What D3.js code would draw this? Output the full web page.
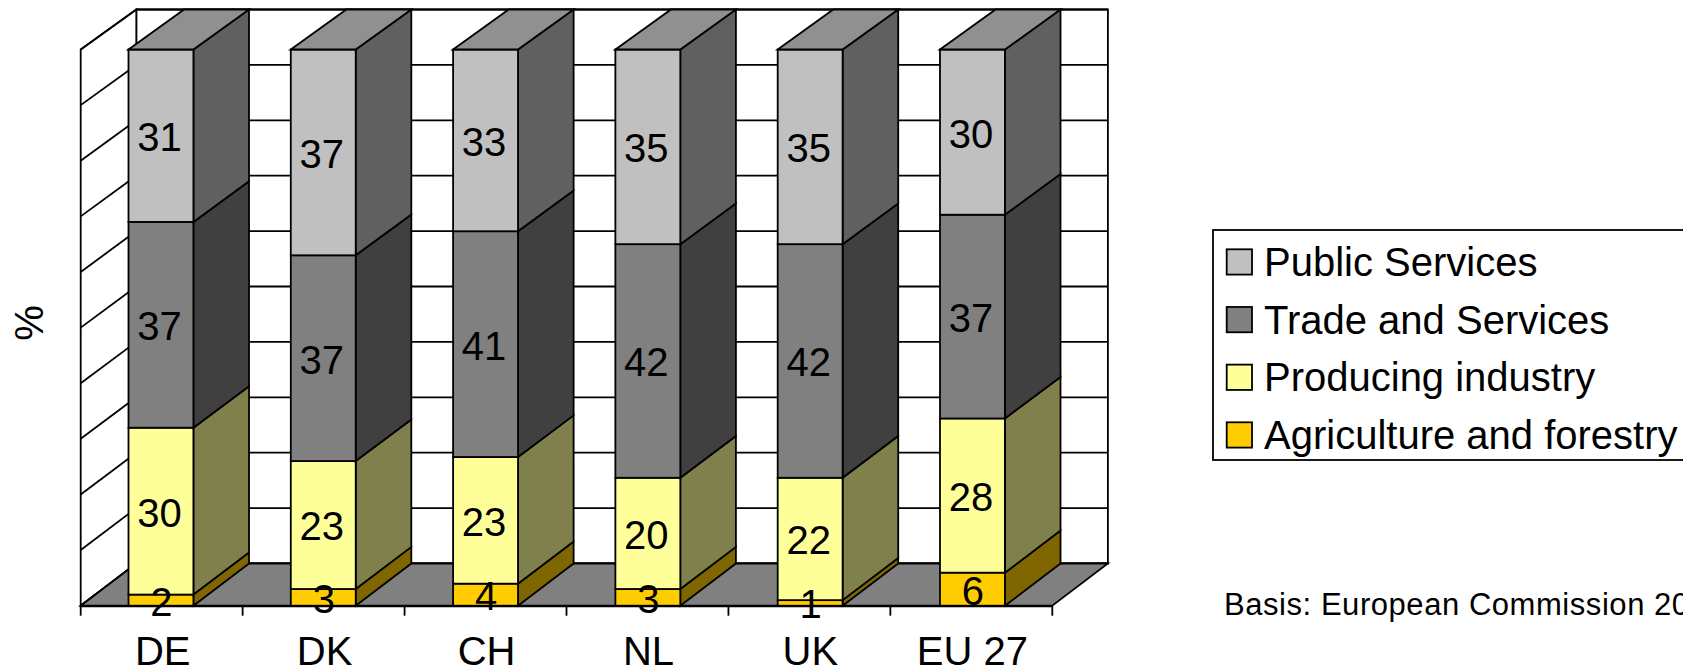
<!DOCTYPE html>
<html>
<head>
<meta charset="utf-8">
<style>
  html, body { margin: 0; padding: 0; background: #fff; overflow: hidden; }
  text { font-family: "Liberation Sans", Arial, sans-serif; fill: #000; }
</style>
<script src="https://cdn.jsdelivr.net/npm/d3@7"></script>
</head>
<body>
<svg id="chart" width="1683" height="670"></svg>
<script>
// Employment share by sector
const countries = ["DE", "DK", "CH", "NL", "UK", "EU 27"];
const agriculture = [2, 3, 4, 3, 1, 6];
const industry = [30, 23, 23, 20, 22, 28];
const trade = [37, 37, 41, 42, 42, 37];
const publicServices = [31, 37, 33, 35, 35, 30];

const sectorNames = ["Agriculture and forestry", "Producing industry", "Trade and Services", "Public Services"];
const faceColors = ["#FFCC00", "#FFFF99", "#808080", "#C0C0C0"];
const sideColors = ["#806600", "#80804D", "#404040", "#606060"];
const topColor = "#909090";
const floorColor = "#808080";
const gridTicks = [0, 0.1, 0.2, 0.3, 0.4, 0.5, 0.6, 0.7, 0.8, 0.9, 1];
const sourceNote = "Basis: European Commission 2007";

const svg = d3.select("#chart");
const rows = countries.map((c, i) => ({
  country: c, 0: agriculture[i], 1: industry[i], 2: trade[i], 3: publicServices[i]
}));
const layers = d3.stack().keys([0, 1, 2, 3]).offset(d3.stackOffsetExpand)(rows);

// Front plane and back plane of the 3D box
const plotLeft = 80.7, plotRight = 1052.3, depthX = 55.6;
const x = d3.scaleBand().domain(countries).range([79.8, 1053.6]).paddingInner(0.6).paddingOuter(0.3);
const band = d3.scaleBand().domain(countries).range([plotLeft, plotRight]);
const yFront = d3.scaleLinear().domain([0, 1]).range([605.7, 49.5]);
const yBack = d3.scaleLinear().domain([0, 1]).range([563.5, 9.5]);

const poly = pts => pts.map(p => p.join(",")).join(" ");
const stroke = { stroke: "#000", "stroke-width": 1.8, "stroke-linejoin": "miter" };
const applyStroke = sel => { for (const k in stroke) sel.attr(k, stroke[k]); return sel; };

// Walls and floor
const back = svg.append("g");
applyStroke(back.append("polygon")
  .attr("points", poly([[plotLeft + depthX, yBack(1)], [plotRight + depthX, yBack(1)], [plotRight + depthX, yBack(0)], [plotLeft + depthX, yBack(0)]]))
  .attr("fill", "#fff"));
applyStroke(back.append("polygon")
  .attr("points", poly([[plotLeft, yFront(1)], [plotLeft + depthX, yBack(1)], [plotLeft + depthX, yBack(0)], [plotLeft, yFront(0)]]))
  .attr("fill", "#fff"));
applyStroke(back.selectAll("line.back-grid").data(gridTicks).join("line")
  .attr("class", "back-grid")
  .attr("x1", plotLeft + depthX).attr("x2", plotRight + depthX)
  .attr("y1", d => yBack(d)).attr("y2", d => yBack(d)));
applyStroke(back.selectAll("line.side-grid").data(gridTicks).join("line")
  .attr("class", "side-grid")
  .attr("x1", plotLeft).attr("x2", plotLeft + depthX)
  .attr("y1", d => yFront(d)).attr("y2", d => yBack(d)));
applyStroke(back.append("polygon")
  .attr("points", poly([[plotLeft, yFront(0)], [plotRight, yFront(0)], [plotRight + depthX, yBack(0)], [plotLeft + depthX, yBack(0)]]))
  .attr("fill", floorColor));

// Stacked boxes: side face, then front face, then the cap on the top segment
const bars = svg.append("g");
layers.forEach((layer, si) => {
  layer.forEach(d => {
    const c = d.data.country, x0 = x(c), x1 = x0 + x.bandwidth();
    applyStroke(bars.append("polygon")
      .attr("points", poly([[x1, yFront(d[0])], [x1 + depthX, yBack(d[0])], [x1 + depthX, yBack(d[1])], [x1, yFront(d[1])]]))
      .attr("fill", sideColors[si]));
    applyStroke(bars.append("rect")
      .attr("x", x0).attr("y", yFront(d[1]))
      .attr("width", x.bandwidth()).attr("height", yFront(d[0]) - yFront(d[1]))
      .attr("fill", faceColors[si]));
    if (si === layers.length - 1) {
      applyStroke(bars.append("polygon")
        .attr("points", poly([[x0, yFront(d[1])], [x0 + depthX, yBack(d[1])], [x1 + depthX, yBack(d[1])], [x1, yFront(d[1])]]))
        .attr("fill", topColor));
    }
  });
});

// Category axis: labels from the band scale, ticks on the band boundaries
const axis = svg.append("g").attr("transform", `translate(0,${yFront(0)})`)
  .call(d3.axisBottom(band).tickSize(0).tickPadding(31));
axis.select(".domain").attr("stroke", "#000").attr("stroke-width", 2);
axis.selectAll("text").attr("font-size", 40).attr("dy", "0.71em").attr("dx", 1);
axis.selectAll("line.bound").data(d3.range(countries.length + 1)).join("line")
  .attr("class", "bound")
  .attr("x1", i => plotLeft + i * band.step()).attr("x2", i => plotLeft + i * band.step())
  .attr("y1", 0).attr("y2", 10)
  .attr("stroke", "#000").attr("stroke-width", 1.8);

// Value labels centred on each front face
const labels = svg.append("g").attr("font-size", 40).attr("text-anchor", "middle");
layers.forEach(layer => {
  layer.forEach(d => {
    const val = d.data[layer.key];
    labels.append("text")
      .attr("x", x(d.data.country) + x.bandwidth() / 2 - (val >= 10 ? 1.5 : -0.5))
      .attr("y", (yFront(d[0]) + yFront(d[1])) / 2 + 1)
      .attr("dy", "0.36em")
      .text(val);
  });
});

// Vertical axis title
svg.append("text")
  .attr("transform", "translate(43,323) rotate(-90)")
  .attr("text-anchor", "middle").attr("font-size", 40).text("%");

// Legend, listed from the top of the stack downwards
const legend = svg.append("g");
legend.append("rect").attr("x", 1213).attr("y", 230).attr("width", 520).attr("height", 230)
  .attr("fill", "#fff").attr("stroke", "#000").attr("stroke-width", 1.8);
const legendRows = d3.range(sectorNames.length).reverse();
const legendY = d3.scalePoint().domain(legendRows).range([262, 435]);
const entries = legend.selectAll("g.entry").data(legendRows).join("g")
  .attr("class", "entry").attr("transform", k => `translate(0,${legendY(k)})`);
entries.append("rect").attr("x", 1226.7).attr("y", -12.7).attr("width", 25.3).attr("height", 25.3)
  .attr("fill", k => faceColors[k]).attr("stroke", "#000").attr("stroke-width", 1.8);
entries.append("text").attr("x", 1264).attr("y", 14).attr("font-size", 40)
  .text(k => sectorNames[k]);

// Source note
svg.append("text").attr("x", 1224).attr("y", 615).attr("font-size", 31)
  .attr("letter-spacing", 0.55).text(sourceNote);
</script>
</body>
</html>
